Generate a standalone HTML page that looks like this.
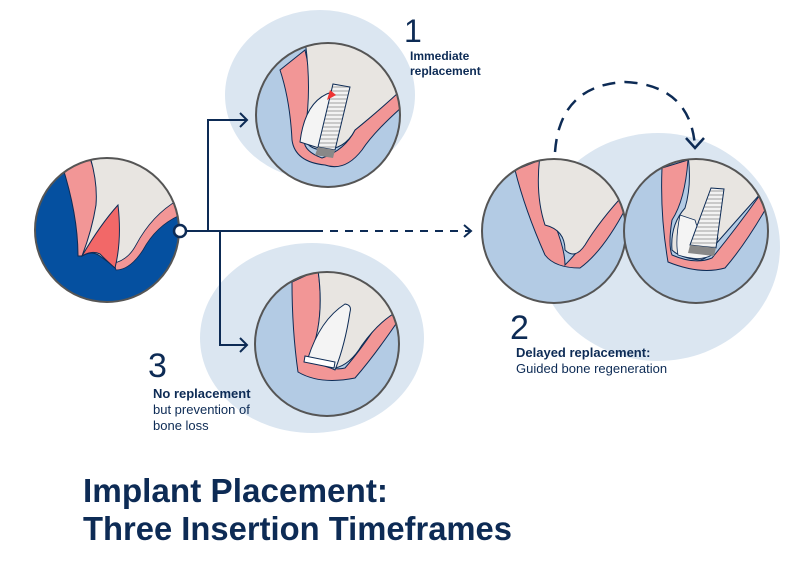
<!DOCTYPE html>
<html><head><meta charset="utf-8"><style>
html,body{margin:0;padding:0;background:#fff}
svg{display:block}
text{font-family:"Liberation Sans",sans-serif;fill:#0d2b55}
</style></head><body>
<svg width="800" height="565" viewBox="0 0 800 565" xmlns="http://www.w3.org/2000/svg">
<defs>
<clipPath id="c0"><circle cx="107" cy="230" r="72"/></clipPath>
<clipPath id="c1"><circle cx="328" cy="115" r="72"/></clipPath>
<clipPath id="c3"><circle cx="327" cy="344" r="72"/></clipPath>
<clipPath id="c2a"><circle cx="554" cy="231" r="72"/></clipPath>
<clipPath id="c2b"><circle cx="696" cy="231" r="72"/></clipPath>
<pattern id="thr" width="6" height="4" patternUnits="userSpaceOnUse"><rect width="6" height="4" fill="#c9c9c9"/><rect y="0" width="6" height="2" fill="#f2f2f2"/></pattern>
</defs>
<ellipse cx="320" cy="95" rx="95" ry="85" fill="#dbe6f1"/>
<ellipse cx="312" cy="338" rx="112" ry="95" fill="#dbe6f1"/>
<ellipse cx="658" cy="247" rx="122" ry="114" fill="#dbe6f1"/>

<!-- circle 0 -->
<g clip-path="url(#c0)">
<rect x="30" y="150" width="160" height="160" fill="#0550a0"/>
<path d="M62 165 L90 158 Q100 185 95 215 Q88 245 82 256 L78 256 Q78 215 62 165Z" fill="#f29696" stroke="#0d2b55" stroke-width="1"/>
<path d="M88 150 L190 150 L185 205 Q160 215 140 245 Q128 265 116 268 Q108 262 100 256 Q92 250 82 256 Q92 230 96 205 Q98 180 88 150Z" fill="#e8e5e1" stroke="#0d2b55" stroke-width="1"/>
<path d="M178 200 L188 212 Q158 222 143 250 Q130 270 116 270 L114 263 Q128 260 136 245 Q152 215 178 200Z" fill="#f29696" stroke="#0d2b55" stroke-width="0.8"/>
<path d="M82 256 Q100 225 118 205 Q122 240 115 268 Q108 262 100 254 Q92 250 82 256Z" fill="#f26868" stroke="#0d2b55" stroke-width="1"/>
</g>
<circle cx="107" cy="230" r="72" fill="none" stroke="#555" stroke-width="2"/>

<!-- circle 1 -->
<g clip-path="url(#c1)">
<rect x="250" y="40" width="160" height="160" fill="#b3cbe4"/>
<path d="M280 70 L305 50 Q315 90 305 135 Q300 150 322 158 Q345 150 355 130 Q380 110 410 80 L410 100 Q375 130 362 150 Q345 172 325 165 Q295 162 292 140 Q290 100 280 70Z" fill="#f29696" stroke="#0d2b55" stroke-width="1"/>
<path d="M305 40 L410 40 L410 82 Q380 110 355 130 Q345 150 322 150 Q302 148 305 130 Q312 90 305 40Z" fill="#e8e5e1" stroke="#0d2b55" stroke-width="1"/>
<path d="M300 142 Q305 100 332 92 L325 150 Z" fill="#f4f4f4" stroke="#0d2b55" stroke-width="1"/>
<polygon points="333,84 350,87 335,150 318,147" fill="url(#thr)" stroke="#0d2b55" stroke-width="1"/>
<polygon points="318,147 335,150 333,158 315,155" fill="#888"/>
<path d="M330 90 L336 95 L327 100Z" fill="#e33"/>
</g>
<circle cx="328" cy="115" r="72" fill="none" stroke="#555" stroke-width="2"/>

<!-- circle 3 -->
<g clip-path="url(#c3)">
<rect x="250" y="270" width="160" height="160" fill="#b3cbe4"/>
<path d="M292 282 L318 270 Q325 320 310 358 Q330 372 345 368 Q365 345 390 305 L400 318 Q375 355 355 378 Q320 385 298 372 Q292 330 292 282Z" fill="#f29696" stroke="#0d2b55" stroke-width="1"/>
<path d="M318 270 L410 270 L400 310 Q380 320 362 345 Q350 365 335 368 Q312 362 310 355 Q325 320 318 270Z" fill="#e8e5e1" stroke="#0d2b55" stroke-width="1"/>
<path d="M308 358 Q320 320 345 304 Q352 305 350 312 Q345 345 335 370 Z" fill="#f4f4f4" stroke="#0d2b55" stroke-width="1"/>
<polygon points="305,356 335,362 334,368 304,362" fill="#fff" stroke="#0d2b55" stroke-width="1"/>
</g>
<circle cx="327" cy="344" r="72" fill="none" stroke="#555" stroke-width="2"/>

<!-- circle 2a -->
<g clip-path="url(#c2a)">
<rect x="480" y="155" width="150" height="150" fill="#b3cbe4"/>
<path d="M515 170 L540 160 Q545 200 555 225 Q565 250 565 265 Q590 240 620 190 L630 200 Q605 250 580 268 Q555 268 545 255 Q525 210 515 170Z" fill="#f29696" stroke="#0d2b55" stroke-width="1"/>
<path d="M540 155 L630 155 L628 190 Q600 220 585 245 Q575 260 565 250 Q565 230 545 225 Q535 195 540 155Z" fill="#e8e5e1" stroke="#0d2b55" stroke-width="1"/>
</g>
<circle cx="554" cy="231" r="72" fill="none" stroke="#555" stroke-width="2"/>

<!-- circle 2b -->
<g clip-path="url(#c2b)">
<rect x="620" y="155" width="150" height="150" fill="#b3cbe4"/>
<path d="M662 168 L688 160 Q685 200 672 220 Q668 245 672 255 Q695 265 712 258 Q735 230 760 195 L768 205 Q745 245 725 268 Q700 275 668 262 Q660 215 662 168Z" fill="#f29696" stroke="#0d2b55" stroke-width="1"/>
<path d="M688 155 L770 155 L762 192 Q735 222 715 245 Q710 258 700 260 Q680 258 672 250 Q670 225 685 208 Q692 185 688 155Z" fill="#e8e5e1" stroke="#0d2b55" stroke-width="1"/>
<path d="M680 215 Q675 240 678 255 Q700 262 712 255 L718 238 Q700 240 695 220 Z" fill="#f4f4f4" stroke="#0d2b55" stroke-width="0.8"/>
<polygon points="711,188 724,189 716,248 690,245" fill="url(#thr)" stroke="#0d2b55" stroke-width="1"/>
<polygon points="690,245 716,248 714,256 688,253" fill="#888"/>
</g>
<circle cx="696" cy="231" r="72" fill="none" stroke="#555" stroke-width="2"/>

<g stroke="#0d2b55" stroke-width="2" fill="none">
<line x1="186" y1="231" x2="315" y2="231"/>
<line x1="315" y1="231" x2="470" y2="231" stroke-dasharray="8,7"/>
<polyline points="464,225 471,231 464,237"/>
<polyline points="208,231 208,120 247,120"/>
<polyline points="240,113 247,120 240,127"/>
<polyline points="220,231 220,345 247,345"/>
<polyline points="240,338 247,345 240,352"/>
<path d="M555 152 Q560 85 625 82 Q690 85 695 146" stroke-dasharray="13,9" stroke-width="2.5"/>
<polyline points="686,138 695,148 704,138" stroke-width="2.5"/>
</g>
<circle cx="180" cy="231" r="6" fill="#fff" stroke="#0d2b55" stroke-width="2.5"/>

<text x="404" y="42" font-size="32">1</text>
<text x="410" y="60" font-size="12" font-weight="bold">Immediate</text>
<text x="410" y="75" font-size="12" font-weight="bold">replacement</text>
<text x="510" y="339" font-size="34">2</text>
<text x="516" y="357" font-size="13" font-weight="bold">Delayed replacement:</text>
<text x="516" y="373" font-size="13">Guided bone regeneration</text>
<text x="148" y="377" font-size="34">3</text>
<text x="153" y="398" font-size="13" font-weight="bold">No replacement</text>
<text x="153" y="414" font-size="13">but prevention of</text>
<text x="153" y="430" font-size="13">bone loss</text>
<text x="83" y="502" font-size="33" font-weight="bold" textLength="305" lengthAdjust="spacingAndGlyphs">Implant Placement:</text>
<text x="83" y="540" font-size="33" font-weight="bold" textLength="429" lengthAdjust="spacingAndGlyphs">Three Insertion Timeframes</text>
</svg>
</body></html>
